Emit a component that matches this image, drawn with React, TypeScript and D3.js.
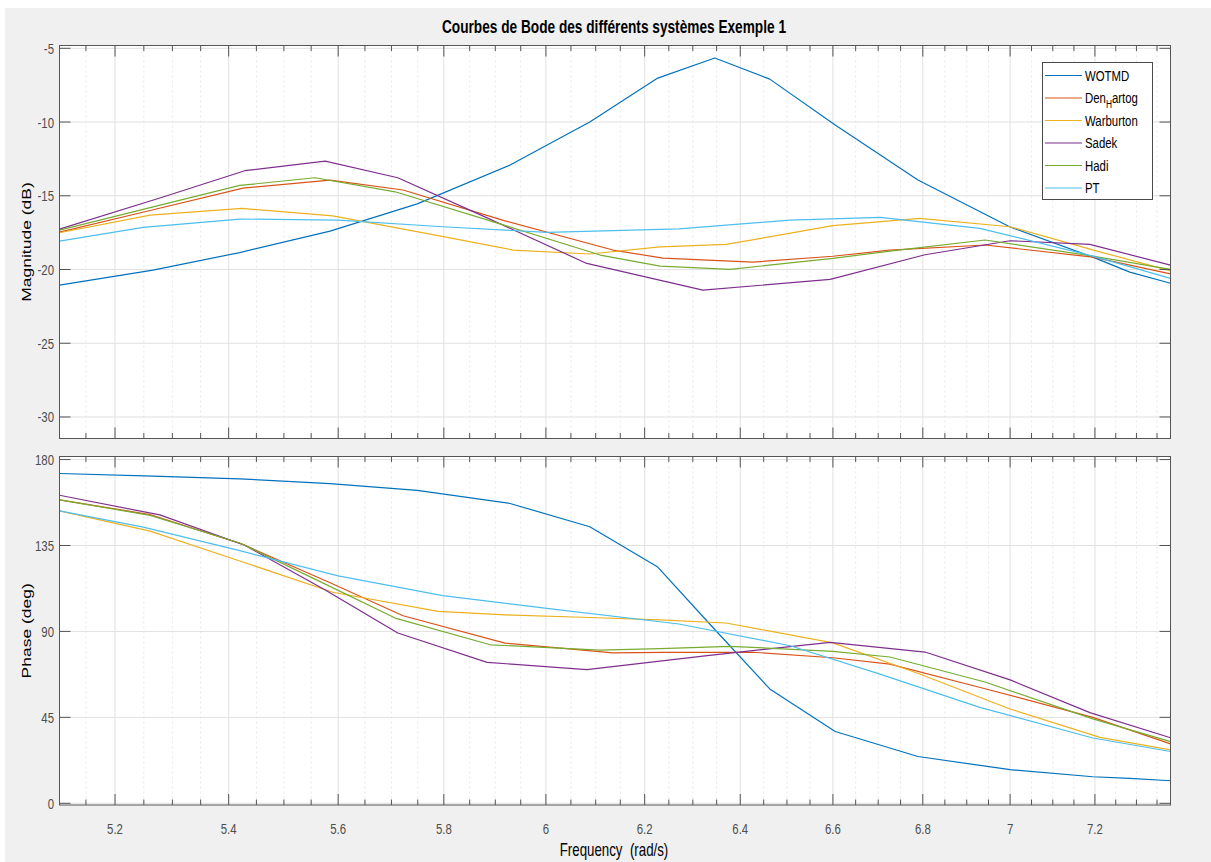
import React from 'react';
import * as d3 from 'd3';

const W = 1211;
const H = 862;
const FONT = '"Liberation Sans", Arial, Helvetica, sans-serif';
const SX = 0.76;

const TITLE = 'Courbes de Bode des différents systèmes Exemple 1';
const X_LABEL = 'Frequency\u00A0\u00A0(rad/s)';
const MAG_LABEL = 'Magnitude (dB)';
const PHASE_LABEL = 'Phase (deg)';

const X_TICKS = [5.2, 5.4, 5.6, 5.8, 6, 6.2, 6.4, 6.6, 6.8, 7, 7.2];
const X_TICK_LABELS = ['5.2', '5.4', '5.6', '5.8', '6', '6.2', '6.4', '6.6', '6.8', '7', '7.2'];
const MAG_TICKS = [-30, -25, -20, -15, -10, -5];
const PHASE_TICKS = [0, 45, 90, 135, 180];

const SERIES_NAMES = ['WOTMD', 'DenHartog', 'Warburton', 'Sadek', 'Hadi', 'PT'];
const COLORS = ['#0072BD', '#D95319', '#EDB120', '#7E2F8E', '#77AC30', '#4DBEEE'];

const FREQ_WOTMD = [5.105, 5.266, 5.420, 5.585, 5.749, 5.929, 6.088, 6.227, 6.346, 6.463, 6.605, 6.789, 7.000, 7.195, 7.284, 7.383];
const MAG_WOTMD = [-21.06, -20.04, -18.85, -17.4, -15.55, -12.92, -10.0, -7.02, -5.66, -7.09, -10.2, -13.93, -17.12, -19.16, -20.18, -20.93];
const PHASE_WOTMD = [172.7, 171.3, 169.9, 167.4, 163.9, 157.0, 144.8, 123.7, 91.0, 59.9, 37.6, 24.5, 17.6, 13.9, 13.0, 11.8];

const FREQ_DENH = [5.105, 5.261, 5.426, 5.585, 5.722, 5.919, 6.135, 6.238, 6.427, 6.600, 6.726, 6.942, 7.195, 7.383];
const MAG_DENH = [-17.46, -16.0, -14.48, -13.94, -14.61, -16.7, -18.68, -19.23, -19.5, -19.1, -18.68, -18.34, -19.16, -20.3];
const PHASE_DENH = [158.9, 151.2, 135.5, 115.5, 98.2, 83.9, 78.8, 79.0, 79.1, 76.2, 72.9, 60.0, 45.0, 31.1];

const FREQ_WARB = [5.105, 5.261, 5.424, 5.590, 5.789, 5.935, 6.088, 6.232, 6.370, 6.600, 6.793, 7.000, 7.212, 7.383];
const MAG_WARB = [-17.51, -16.31, -15.86, -16.36, -17.7, -18.68, -18.95, -18.46, -18.3, -17.03, -16.53, -17.1, -18.8, -20.09];
const PHASE_WARB = [153.1, 142.5, 126.5, 110.5, 100.5, 98.5, 97.3, 96.0, 94.4, 84.0, 67.7, 49.4, 34.5, 28.0];

const FREQ_SADEK = [5.105, 5.278, 5.429, 5.576, 5.712, 5.884, 6.082, 6.321, 6.594, 6.805, 7.000, 7.188, 7.383];
const MAG_SADEK = [-17.26, -15.15, -13.3, -12.65, -13.78, -16.5, -19.59, -21.4, -20.67, -19.0, -18.05, -18.3, -19.7];
const PHASE_SADEK = [161.3, 151.0, 135.1, 111.7, 89.2, 73.8, 70.0, 77.1, 84.3, 79.2, 64.6, 47.5, 34.3];

const FREQ_HADI = [5.105, 5.261, 5.420, 5.557, 5.707, 5.890, 6.109, 6.232, 6.378, 6.600, 6.726, 6.942, 7.195, 7.383];
const MAG_HADI = [-17.33, -15.8, -14.3, -13.78, -14.73, -16.7, -19.02, -19.77, -19.99, -19.25, -18.75, -18.0, -19.09, -19.99];
const PHASE_HADI = [158.9, 150.8, 136.3, 117.4, 97.0, 83.0, 80.2, 81.0, 82.2, 79.6, 76.6, 63.5, 44.2, 32.3];

const FREQ_PT = [5.105, 5.249, 5.420, 5.600, 5.798, 6.002, 6.271, 6.507, 6.704, 6.930, 7.195, 7.383];
const MAG_PT = [-18.07, -17.14, -16.58, -16.65, -17.1, -17.48, -17.25, -16.65, -16.47, -17.21, -19.09, -20.6];
const PHASE_PT = [153.1, 144.6, 132.3, 119.1, 108.7, 102.1, 93.9, 82.5, 67.6, 50.2, 34.2, 27.1];

const SERIES = [
  { freq: FREQ_WOTMD, mag: MAG_WOTMD, phase: PHASE_WOTMD },
  { freq: FREQ_DENH, mag: MAG_DENH, phase: PHASE_DENH },
  { freq: FREQ_WARB, mag: MAG_WARB, phase: PHASE_WARB },
  { freq: FREQ_SADEK, mag: MAG_SADEK, phase: PHASE_SADEK },
  { freq: FREQ_HADI, mag: MAG_HADI, phase: PHASE_HADI },
  { freq: FREQ_PT, mag: MAG_PT, phase: PHASE_PT },
];

const X0 = 59.5;
const X1 = 1170.5;
const TOP = { y0: 45.5, y1: 438.5 };
const BOT = { y0: 456.5, y1: 805 };

const xScale = d3.scaleLog().domain([5.105, 7.383]).range([X0, X1]);
const yMag = d3.scaleLinear().domain([-31.46, -4.81]).range([TOP.y1, TOP.y0]);
const yPh = d3.scaleLinear().domain([-0.9, 181.6]).range([BOT.y1, BOT.y0]);

const MINOR_TICKS = d3
  .range(5.15, 7.36, 0.05)
  .map((v) => Math.round(v * 100) / 100)
  .filter((v) => !X_TICKS.some((t) => Math.abs(t - v) < 1e-6));

function Txt(props: any) {
  const { x, y, anchor = 'start', size = 15, weight = 'normal', fill = '#4d4d4d', rotate = false, children } = props;
  const tr = rotate
    ? `translate(${x},${y}) rotate(-90) scale(1,${SX})`
    : `translate(${x},${y}) scale(${SX},1)`;
  return (
    <text transform={tr} textAnchor={anchor} fontSize={size} fontWeight={weight} fill={fill} fontFamily={FONT}>
      {children}
    </text>
  );
}

function Panel(props: any) {
  const { y0, y1, yScale, yTicks, field, clipId, showXLabels } = props;
  const axisColor = '#555555';
  const line = d3
    .line<[number, number]>()
    .x((d) => xScale(d[0]))
    .y((d) => yScale(d[1]));
  return (
    <g>
      <rect x={X0} y={y0} width={X1 - X0} height={y1 - y0} fill="#ffffff" />
      <clipPath id={clipId}>
        <rect x={X0} y={y0} width={X1 - X0} height={y1 - y0} />
      </clipPath>
      {MINOR_TICKS.map((t) => (
        <line key={'mg' + t} x1={xScale(t)} x2={xScale(t)} y1={y0} y2={y1} stroke="#e2e2e2" strokeWidth={0.8} strokeDasharray="2,3" />
      ))}
      {X_TICKS.map((t) => (
        <line key={'g' + t} x1={xScale(t)} x2={xScale(t)} y1={y0} y2={y1} stroke="#e1e1e1" strokeWidth={1} />
      ))}
      {yTicks.map((t: number) => (
        <line key={'gy' + t} x1={X0} x2={X1} y1={yScale(t)} y2={yScale(t)} stroke="#e1e1e1" strokeWidth={1} />
      ))}
      <g clipPath={`url(#${clipId})`}>
        {SERIES.map((s, i) => {
          const pts: [number, number][] = s.freq.map((f, k) => [f, (s as any)[field][k]]);
          return <path key={i} d={line(pts) || ''} fill="none" stroke={COLORS[i]} strokeWidth={1.2} strokeLinejoin="round" />;
        })}
      </g>
      {X_TICKS.map((t) => (
        <g key={'t' + t}>
          <line x1={xScale(t)} x2={xScale(t)} y1={y0} y2={y0 + 11} stroke={axisColor} strokeWidth={1} />
          <line x1={xScale(t)} x2={xScale(t)} y1={y1} y2={y1 - 11} stroke={axisColor} strokeWidth={1} />
        </g>
      ))}
      {MINOR_TICKS.map((t) => (
        <g key={'mt' + t}>
          <line x1={xScale(t)} x2={xScale(t)} y1={y0} y2={y0 + 5.5} stroke={axisColor} strokeWidth={1} />
          <line x1={xScale(t)} x2={xScale(t)} y1={y1} y2={y1 - 5.5} stroke={axisColor} strokeWidth={1} />
        </g>
      ))}
      {yTicks.map((t: number) => (
        <g key={'yt' + t}>
          <line x1={X0} x2={X0 + 11} y1={yScale(t)} y2={yScale(t)} stroke={axisColor} strokeWidth={1} />
          <line x1={X1} x2={X1 - 11} y1={yScale(t)} y2={yScale(t)} stroke={axisColor} strokeWidth={1} />
          <Txt x={54} y={yScale(t) + 5.5} anchor="end" size={15}>
            {String(t)}
          </Txt>
        </g>
      ))}
      <rect x={X0} y={y0} width={X1 - X0} height={y1 - y0} fill="none" stroke={axisColor} strokeWidth={1} />
      {showXLabels &&
        X_TICKS.map((t, i) => (
          <Txt key={'xl' + t} x={xScale(t)} y={834} anchor="middle" size={15}>
            {X_TICK_LABELS[i]}
          </Txt>
        ))}
    </g>
  );
}

function Legend() {
  const lx = 1042.5;
  const ly = 62.5;
  const w = 110;
  const h = 137;
  const y0 = 75.5;
  const step = 22.5;
  return (
    <g>
      <rect x={lx} y={ly} width={w} height={h} fill="#ffffff" stroke="#4a4a4a" strokeWidth={1} />
      {SERIES_NAMES.map((n, i) => {
        const y = y0 + i * step;
        return (
          <g key={n}>
            <line x1={1045} x2={1082} y1={y} y2={y} stroke={COLORS[i]} strokeWidth={1.2} />
            {n === 'DenHartog' ? (
              <text transform={`translate(1085,${y + 5}) scale(${SX},1)`} fontSize={15} fill="#000" fontFamily={FONT}>
                Den
                <tspan fontSize={11} dy={5}>H</tspan>
                <tspan dy={-5}>artog</tspan>
              </text>
            ) : (
              <Txt x={1085} y={y + 5} size={15} fill="#000">
                {n}
              </Txt>
            )}
          </g>
        );
      })}
    </g>
  );
}

export default function App() {
  return (
    <div style={{ position: 'absolute', left: 0, top: 0 }}>
      <svg width={W} height={H} viewBox={`0 0 ${W} ${H}`} style={{ display: 'block' }}>
        <rect x={0} y={0} width={W} height={H} fill="#ffffff" />
        <rect x={5} y={8} width={W - 5} height={H - 8} fill="#f0f0f0" />
        <Txt x={614} y={33} anchor="middle" size={18} weight="bold" fill="#000">
          {TITLE}
        </Txt>
        <Panel y0={TOP.y0} y1={TOP.y1} yScale={yMag} yTicks={MAG_TICKS} field="mag" clipId="clipTop" showXLabels={false} />
        <Panel y0={BOT.y0} y1={BOT.y1} yScale={yPh} yTicks={PHASE_TICKS} field="phase" clipId="clipBot" showXLabels={true} />
        <Legend />
        <Txt x={31} y={(TOP.y0 + TOP.y1) / 2} anchor="middle" size={17.5} fill="#000" rotate>
          {MAG_LABEL}
        </Txt>
        <Txt x={31} y={(BOT.y0 + BOT.y1) / 2} anchor="middle" size={17.5} fill="#000" rotate>
          {PHASE_LABEL}
        </Txt>
        <Txt x={614} y={856} anchor="middle" size={17.5} fill="#000">
          {X_LABEL}
        </Txt>
      </svg>
    </div>
  );
}
